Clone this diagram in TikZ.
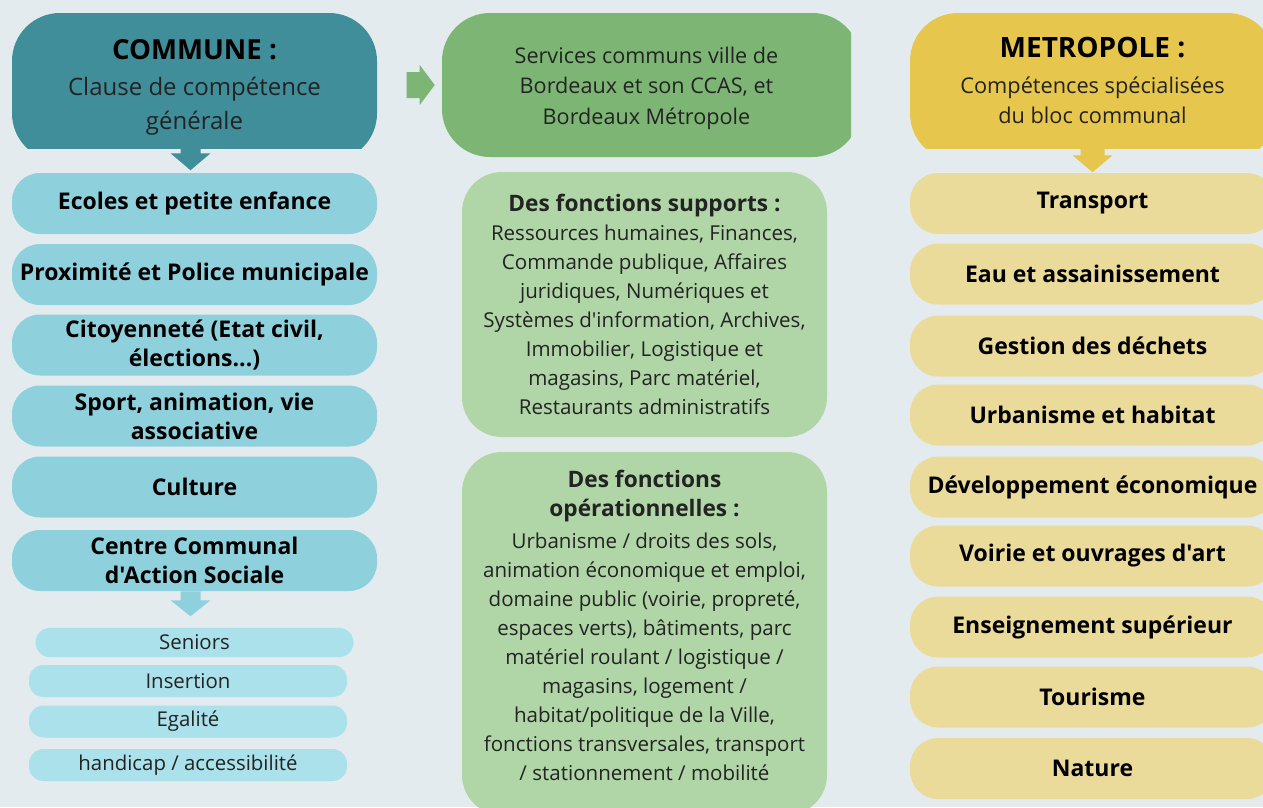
\documentclass[tikz,border=0pt]{standalone}
\usepackage{fontspec}
\setmainfont{Open Sans}
\newfontfamily\osans{Open Sans}

\definecolor{fond}{HTML}{E3EBEE}
\definecolor{communefonce}{HTML}{418E9B}
\definecolor{communeclair}{HTML}{8FD0DD}
\definecolor{ccasclair}{HTML}{ABE1EA}
\definecolor{servicesvert}{HTML}{7DB574}
\definecolor{vertclair}{HTML}{B0D6A7}
\definecolor{metrofonce}{HTML}{E6C64C}
\definecolor{metroclair}{HTML}{EBDB9B}
\definecolor{texte}{HTML}{232323}

\begin{document}
\begin{tikzpicture}[x=0.75pt, y=-0.75pt,
    entete/.style={fill=fond, inner sep=0pt, align=center, text=texte,
      minimum width=273.75pt, minimum height=101.25pt,
      path picture={\fill[#1, rounded corners=36pt] (path picture bounding box.north west)
        rectangle ([yshift=-10pt]path picture bounding box.south east);}},
    commitem/.style={fill=communeclair, rounded corners=21pt, inner sep=0pt, align=center,
      minimum width=273.75pt, minimum height=45.75pt, text=black,
      font=\osans\fontsize{17.25}{21.75}\selectfont\bfseries},
    metroitem/.style={commitem, fill=metroclair},
    ccasitem/.style={fill=ccasclair, rounded corners=11pt, inner sep=0pt,
      minimum width=238.5pt, minimum height=24pt, text=texte,
      font=\osans\fontsize{15.3}{18}\selectfont},
    vertbox/.style={fill=vertclair, rounded corners=30pt, inner sep=0pt, align=center,
      minimum width=273.75pt, text=texte,
      font=\osans\fontsize{15.4}{21.75}\selectfont}]

  % Fond
  \useasboundingbox (0,0) rectangle (1263,807);
  \clip (0,0) rectangle (1263,807);
  \fill[fond] (0,0) rectangle (1263,807);

  % Colonne commune
  \node[entete=communefonce, font=\osans\fontsize{18}{25.5}\selectfont] (commune) at (194.5,80.5)
    {\rule{0pt}{25.3pt}{\fontsize{20.7}{25.5}\selectfont\bfseries\color{black}COMMUNE :}\\[2pt] Clause de compétence\\ générale};
  \node[commitem] (ecoles) at (194.5,203.5) {Ecoles et petite enfance};
  \node[commitem] (proxi) at (194.5,274.5) {Proximité et Police municipale};
  \node[commitem] (citoy) at (194.5,345) {Citoyenneté (Etat civil,\\ élections...)};
  \node[commitem] (sport) at (194.5,416) {Sport, animation, vie\\ associative};
  \node[commitem] (culture) at (194.5,487) {Culture};
  \node[commitem] (ccas) at (194.5,560.5) {Centre Communal\\ d'Action Sociale};

  \node[ccasitem, minimum height=22pt] (seniors) at (194.5,642.5) {Seniors};
  \node[ccasitem] (insertion) at (188,681) {Insertion};
  \node[ccasitem] (egalite) at (188,721.5) {Egalité};
  \node[ccasitem] (handicap) at (188,765) {handicap / accessibilité};

  % Colonne services communs
  \node[fill=fond, inner sep=0pt, align=center, text=texte,
    minimum width=306.75pt, minimum height=108pt,
    font=\osans\fontsize{16.2}{22.9}\selectfont,
    path picture={\fill[servicesvert, rounded corners=36pt] (path picture bounding box.north west)
      rectangle ([xshift=7pt]path picture bounding box.south east);}] (services) at (646.5,85)
    {\rule{0pt}{16.8pt}Services communs ville de\\ Bordeaux et son CCAS, et\\ Bordeaux Métropole};

  \node[vertbox, minimum height=198.75pt] (supports) at (644.5,304.5)
    {{\fontsize{17}{21.75}\selectfont\bfseries Des fonctions supports :}\\ Ressources humaines, Finances,\\ Commande publique, Affaires\\
     juridiques, Numériques et\\ Systèmes d'information, Archives,\\ Immobilier, Logistique et\\
     magasins, Parc matériel,\\ Restaurants administratifs};
  \node[vertbox, minimum height=272.25pt] (operations) at (644.5,633.5)
    {{\fontsize{17}{21.75}\selectfont\bfseries Des fonctions}\\ {\fontsize{17}{21.75}\selectfont\bfseries opérationnelles :}\\[2.25pt] Urbanisme / droits des sols,\\
     animation économique et emploi,\\ domaine public (voirie, propreté,\\ espaces verts), bâtiments, parc\\
     matériel roulant / logistique /\\ magasins, logement /\\ habitat/politique de la Ville,\\
     fonctions transversales, transport\\ / stationnement / mobilité\rule[-12pt]{0pt}{0pt}};

  % Colonne metropole
  \node[entete=metrofonce, font=\osans\fontsize{16.3}{22.5}\selectfont] (metro) at (1092.5,80.5)
    {{\fontsize{21}{25.5}\selectfont\bfseries\color{black}METROPOLE :}\\[5pt] Compétences spécialisées\\ du bloc communal};
  \node[metroitem] (transport) at (1092.5,203.5) {Transport};
  \node[metroitem] (eau) at (1092.5,274) {Eau et assainissement};
  \node[metroitem] (dechets) at (1092.5,346) {Gestion des déchets};
  \node[metroitem] (urba) at (1092.5,415) {Urbanisme et habitat};
  \node[metroitem] (eco) at (1092.5,487) {Développement économique};
  \node[metroitem] (voirie) at (1092.5,556) {Voirie et ouvrages d'art};
  \node[metroitem] (sup) at (1092.5,627) {Enseignement supérieur};
  \node[metroitem] (tourisme) at (1092.5,697) {Tourisme};
  \node[metroitem] (nature) at (1092.5,768.5) {Nature};

  % Flèches
  \fill[communefonce] ([xshift=-10.5pt]commune.south) -- ++(0,5) -- ++(-10,0) -- ++(20,17)
    -- ++(20,-17) -- ++(-10,0) -- ++(0,-5) -- cycle;
  \fill[communeclair] ([xshift=-10.5pt]ccas.south) -- ++(0,9) -- ++(-10,0) -- ++(20,16)
    -- ++(20,-16) -- ++(-10,0) -- ++(0,-9) -- cycle;
  \fill[metrofonce] ([xshift=-9pt]metro.south) -- ++(0,7) -- ++(-8,0) -- ++(20,17)
    -- ++(20,-17) -- ++(-8,0) -- ++(0,-7) -- cycle;
  \fill[servicesvert] ([xshift=-5.25pt]services.west) -- ++(-15,-20) -- ++(0,7) -- ++(-13,0)
    -- ++(0,26) -- ++(13,0) -- ++(0,7) -- cycle;
\end{tikzpicture}
\end{document}
